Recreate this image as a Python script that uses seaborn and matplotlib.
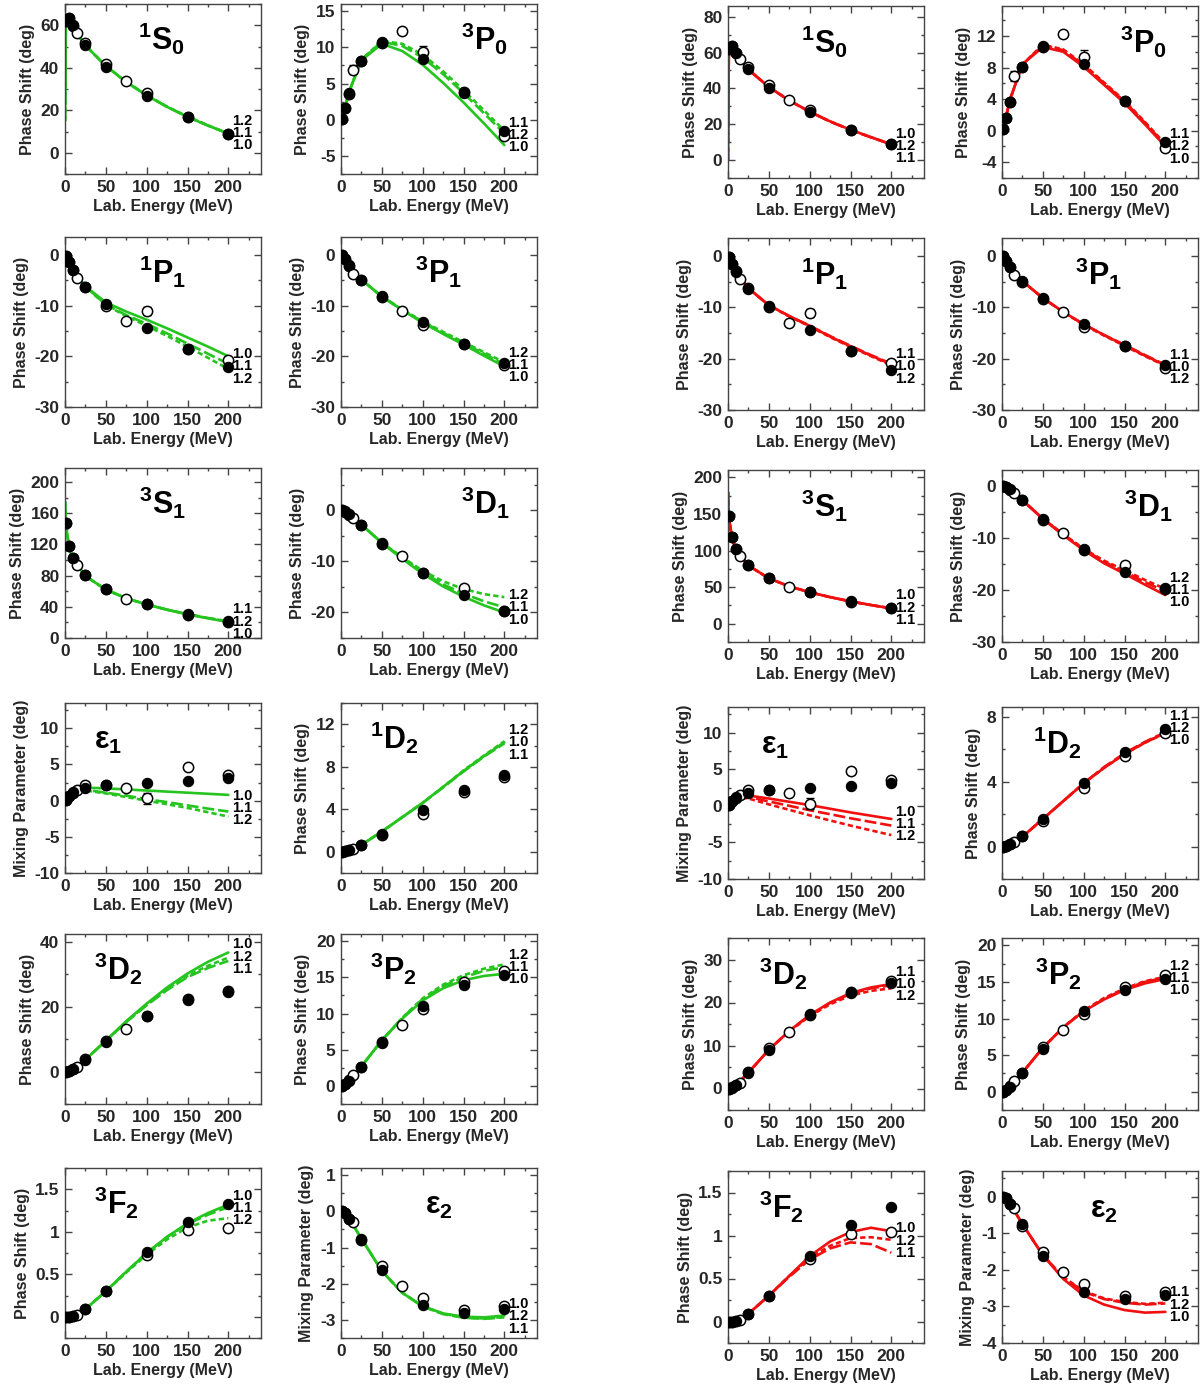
import matplotlib
matplotlib.use("Agg")
import matplotlib.pyplot as plt
import seaborn as sns
import numpy as np
from matplotlib.ticker import MultipleLocator, FuncFormatter

# ======================
# 1. style
# ======================
sns.set_theme(style="ticks")
plt.rcParams['font.family'] = ['Liberation Sans', 'DejaVu Sans']
plt.rcParams['font.weight'] = 'bold'
plt.rcParams['axes.labelweight'] = 'bold'
plt.rcParams['axes.unicode_minus'] = False
plt.rcParams['mathtext.fontset'] = 'custom'
plt.rcParams['mathtext.rm'] = 'Liberation Sans:bold'
plt.rcParams['mathtext.bf'] = 'Liberation Sans:bold'
plt.rcParams['mathtext.it'] = 'Liberation Sans:bold'
plt.rcParams['mathtext.sf'] = 'Liberation Sans:bold'

GREEN = '#26c41f'
RED = '#f01010'
FRAME = '#444444'

# ======================
# 2. data
# ======================
WAVES = ['1S0', '3P0', '1P1', '3P1', '3S1', '3D1', 'E1', '1D2', '3D2', '3P2', '3F2', 'E2']
TITLES = {
    '1S0': r'$\mathrm{{}^{1}S_{0}}$', '3P0': r'$\mathrm{{}^{3}P_{0}}$',
    '1P1': r'$\mathrm{{}^{1}P_{1}}$', '3P1': r'$\mathrm{{}^{3}P_{1}}$',
    '3S1': r'$\mathrm{{}^{3}S_{1}}$', '3D1': r'$\mathrm{{}^{3}D_{1}}$',
    'E1': r'$\mathrm{\varepsilon_{1}}$', '1D2': r'$\mathrm{{}^{1}D_{2}}$',
    '3D2': r'$\mathrm{{}^{3}D_{2}}$', '3P2': r'$\mathrm{{}^{3}P_{2}}$',
    '3F2': r'$\mathrm{{}^{3}F_{2}}$', 'E2': r'$\mathrm{\varepsilon_{2}}$',
}
MIXING = ['E1', 'E2']

# energies (MeV)
E_CURVE = [0, 1, 5, 10, 25, 50, 75, 100, 125, 150, 175, 200]
E_FILLED = [1, 5, 10, 25, 50, 100, 150, 200]
E_OPEN = [1, 5, 10, 15, 25, 50, 75, 100, 150, 200]
nan = np.nan

# phase shift analyses (filled / open circles), same in both groups
FILLED = {
    '1S0': [62.1, 63.6, 60.0, 50.9, 40.5, 26.8, 16.9, 8.9],
    '3P0': [0.15, 1.6, 3.65, 8.1, 10.7, 8.4, 3.7, -1.5],
    '1P1': [-0.2, -1.5, -3.1, -6.4, -9.7, -14.5, -18.6, -22.2],
    '3P1': [-0.1, -0.9, -2.1, -4.9, -8.2, -13.3, -17.5, -21.3],
    '3S1': [147.7, 118.2, 102.6, 80.6, 62.8, 43.2, 30.7, 21.2],
    '3D1': [0.0, -0.2, -0.7, -2.8, -6.4, -12.2, -16.5, -19.7],
    'E1': [0.1, 0.7, 1.2, 1.8, 2.1, 2.4, 2.75, 3.1],
    '1D2': [0.0, 0.04, 0.16, 0.68, 1.7, 3.9, 5.8, 7.25],
    '3D2': [0.0, 0.2, 0.8, 3.7, 9.0, 17.3, 22.1, 24.5],
    '3P2': [0.0, 0.25, 0.7, 2.55, 5.9, 11.0, 13.9, 15.4],
    '3F2': [0.0, 0.0, 0.01, 0.09, 0.3, 0.76, 1.12, 1.33],
    'E2': [0.0, -0.05, -0.2, -0.75, -1.63, -2.6, -2.8, -2.7],
}
OPEN = {
    '1S0': [62.0, 63.5, 59.8, 56.5, 51.8, 41.8, 33.7, 28.0, 17.0, 9.0],
    '3P0': [0.15, 1.6, 3.6, 6.9, 8.1, 10.6, 12.3, 9.3, 3.8, -2.2],
    '1P1': [-0.2, -1.5, -3.0, -4.5, -6.3, -10.0, -13.0, -11.1, -18.5, -20.8],
    '3P1': [-0.1, -0.9, -2.2, -3.8, -5.0, -8.3, -11.0, -13.8, -17.6, -21.8],
    '3S1': [147.7, 118.0, 102.5, 93.0, 80.5, 62.5, 50.5, 43.0, 29.0, 21.0],
    '3D1': [0.0, -0.3, -0.9, -1.4, -2.8, -6.5, -9.0, -12.3, -15.3, -19.8],
    'E1': [0.1, 0.7, 1.1, 1.5, 2.2, 2.1, 1.7, 0.3, 4.7, 3.5],
    '1D2': [0.0, 0.05, 0.15, 0.3, 0.65, 1.55, nan, 3.6, 5.6, 7.0],
    '3D2': [0.0, 0.25, 0.8, 1.3, 3.8, 9.5, 13.1, 17.2, 22.5, 25.0],
    '3P2': [0.0, 0.3, 0.8, 1.5, 2.6, 6.1, 8.4, 10.6, 14.3, 15.9],
    '3F2': [0.0, 0.0, 0.01, 0.02, 0.09, 0.3, nan, 0.73, 1.02, 1.04],
    'E2': [0.0, -0.05, -0.2, -0.3, -0.8, -1.5, -2.05, -2.4, -2.72, -2.62],
}
OPEN_ERR = {
    '3P0': [0, 0, 0, 0.6, 0, 0, 0.3, 0.9, 0, 0],
    '1P1': [0, 0, 0, 0, 0, 0, 0, 0.8, 0, 0],
    'E1': [0, 0, 0, 0, 0, 0, 0, 0.8, 0, 0],
}

# model curves, left group (green)
GREEN_CURVES = {
    '1S0': {'1.0': [15, 60, 62, 58.5, 50.5, 40.8, 33.3, 27.0, 21.6, 16.9, 12.8, 9.0],
            '1.1': [15, 60, 62, 58.5, 50.5, 40.8, 33.3, 27.0, 21.6, 16.9, 12.8, 9.0],
            '1.2': [15, 60, 62, 58.5, 50.5, 40.9, 33.4, 27.1, 21.7, 17.0, 12.9, 9.1]},
    '3P0': {'1.0': [0, 0.2, 1.7, 3.9, 8.2, 10.5, 9.5, 7.6, 5.1, 2.4, -0.5, -3.5],
            '1.1': [0, 0.2, 1.7, 3.9, 8.3, 10.8, 10.2, 8.6, 6.3, 3.7, 0.9, -1.9],
            '1.2': [0, 0.2, 1.7, 3.9, 8.3, 10.9, 10.5, 9.0, 6.7, 4.1, 1.3, -1.5]},
    '1P1': {'1.0': [0, -0.2, -1.5, -3.0, -6.2, -9.4, -11.2, -12.8, -14.5, -16.3, -18.1, -20.0],
            '1.1': [0, -0.2, -1.5, -3.0, -6.3, -9.8, -11.9, -13.6, -15.5, -17.5, -19.5, -21.5],
            '1.2': [0, -0.2, -1.5, -3.0, -6.3, -9.9, -12.1, -14.0, -16.0, -18.1, -20.3, -22.5]},
    '3P1': {'1.0': [0, -0.1, -0.9, -2.0, -4.9, -8.3, -10.9, -13.4, -15.6, -17.7, -19.9, -22.0],
            '1.1': [0, -0.1, -0.9, -2.0, -4.9, -8.2, -10.8, -13.2, -15.4, -17.4, -19.5, -21.6],
            '1.2': [0, -0.1, -0.9, -2.0, -4.9, -8.2, -10.8, -13.1, -15.2, -17.2, -19.2, -21.2]},
    '3S1': {'1.0': [175, 146, 116, 101, 79.5, 62.0, 51.0, 43.0, 36.2, 30.3, 25.2, 20.6],
            '1.1': [175, 146, 116, 101, 79.5, 62.0, 51.0, 43.0, 36.4, 30.6, 25.7, 21.5],
            '1.2': [175, 146, 116, 101, 79.5, 62.0, 51.0, 43.0, 36.3, 30.5, 25.5, 21.0]},
    '3D1': {'1.0': [0, 0, -0.2, -0.7, -2.8, -6.4, -9.5, -12.4, -14.9, -16.9, -18.6, -20.0],
            '1.1': [0, 0, -0.2, -0.7, -2.8, -6.3, -9.3, -12.1, -14.5, -16.3, -17.8, -19.0],
            '1.2': [0, 0, -0.2, -0.7, -2.8, -6.3, -9.2, -11.8, -13.9, -15.4, -16.4, -17.0]},
    'E1': {'1.0': [0, 0.1, 0.7, 1.1, 1.8, 1.7, 1.55, 1.4, 1.25, 1.1, 0.95, 0.8],
           '1.1': [0, 0.1, 0.7, 1.1, 1.5, 1.1, 0.7, 0.2, -0.2, -0.65, -1.1, -1.5],
           '1.2': [0, 0.1, 0.7, 1.1, 1.4, 1.0, 0.5, 0.0, -0.5, -1.0, -1.6, -2.2]},
    '1D2': {'1.0': [0, 0, 0.04, 0.15, 0.65, 1.9, 3.25, 4.6, 6.1, 7.6, 9.0, 10.3],
            '1.1': [0, 0, 0.04, 0.15, 0.65, 1.9, 3.25, 4.6, 6.05, 7.55, 8.95, 10.2],
            '1.2': [0, 0, 0.04, 0.15, 0.65, 1.9, 3.25, 4.6, 6.1, 7.65, 9.05, 10.4]},
    '3D2': {'1.0': [0, 0, 0.2, 0.8, 3.7, 9.6, 15.6, 21.0, 26.0, 30.3, 33.9, 36.8],
            '1.1': [0, 0, 0.2, 0.8, 3.7, 9.5, 15.3, 20.5, 25.2, 29.2, 32.0, 34.2],
            '1.2': [0, 0, 0.2, 0.8, 3.7, 9.5, 15.4, 20.7, 25.5, 29.6, 32.7, 35.2]},
    '3P2': {'1.0': [0, 0, 0.3, 0.8, 2.7, 6.3, 9.3, 11.8, 13.5, 14.6, 15.2, 15.5],
            '1.1': [0, 0, 0.3, 0.8, 2.7, 6.3, 9.4, 12.0, 13.8, 15.0, 15.9, 16.4],
            '1.2': [0, 0, 0.3, 0.8, 2.7, 6.3, 9.4, 12.1, 14.0, 15.3, 16.2, 16.8]},
    '3F2': {'1.0': [0, 0, 0, 0.01, 0.09, 0.3, 0.53, 0.75, 0.94, 1.1, 1.22, 1.32],
            '1.1': [0, 0, 0, 0.01, 0.09, 0.3, 0.53, 0.75, 0.94, 1.09, 1.2, 1.29],
            '1.2': [0, 0, 0, 0.01, 0.09, 0.3, 0.52, 0.73, 0.91, 1.05, 1.13, 1.16]},
    'E2': {'1.0': [0, 0, -0.05, -0.2, -0.75, -1.65, -2.25, -2.62, -2.82, -2.91, -2.93, -2.88],
           '1.1': [0, 0, -0.05, -0.2, -0.75, -1.65, -2.25, -2.63, -2.84, -2.94, -2.97, -2.93],
           '1.2': [0, 0, -0.05, -0.2, -0.75, -1.65, -2.25, -2.62, -2.83, -2.93, -2.96, -2.92]},
}

# model curves, right group (red)
RED_CURVES = {
    '1S0': {'1.0': [0, 60, 62, 58.5, 50.5, 40.8, 33.3, 27.0, 21.6, 16.9, 12.8, 8.8],
            '1.1': [0, 60, 62, 58.5, 50.5, 40.7, 33.2, 26.9, 21.5, 16.8, 12.7, 8.7],
            '1.2': [0, 60, 62, 58.5, 50.5, 40.8, 33.3, 27.0, 21.6, 16.9, 12.8, 8.8]},
    '3P0': {'1.0': [0, 0.2, 1.8, 4.0, 8.4, 10.6, 10.0, 8.1, 5.8, 3.5, 0.8, -2.0],
            '1.1': [0, 0.2, 1.8, 4.0, 8.4, 10.8, 10.2, 8.3, 6.0, 3.7, 1.0, -1.8],
            '1.2': [0, 0.2, 1.8, 4.0, 8.4, 10.9, 10.3, 8.4, 6.1, 3.8, 1.1, -1.7]},
    '1P1': {'1.0': [0, -0.2, -1.5, -3.0, -6.3, -9.6, -11.7, -13.6, -15.7, -17.6, -19.4, -21.1],
            '1.1': [0, -0.2, -1.5, -3.0, -6.3, -9.6, -11.7, -13.6, -15.6, -17.5, -19.3, -21.0],
            '1.2': [0, -0.2, -1.5, -3.0, -6.3, -9.6, -11.8, -13.7, -15.8, -17.7, -19.5, -21.3]},
    '3P1': {'1.0': [0, -0.1, -0.9, -2.0, -4.9, -8.2, -10.9, -13.3, -15.4, -17.4, -19.4, -21.3],
            '1.1': [0, -0.1, -0.9, -2.0, -4.9, -8.2, -10.9, -13.3, -15.4, -17.3, -19.3, -21.2],
            '1.2': [0, -0.1, -0.9, -2.0, -4.9, -8.2, -10.9, -13.4, -15.5, -17.5, -19.5, -21.4]},
    '3S1': {'1.0': [180, 146, 116, 101, 79.5, 62.0, 51.0, 43.0, 36.3, 30.5, 25.5, 21.0],
            '1.1': [180, 146, 116, 101, 79.5, 62.0, 51.0, 43.0, 36.3, 30.5, 25.5, 20.9],
            '1.2': [180, 146, 116, 101, 79.5, 62.0, 51.0, 43.0, 36.3, 30.5, 25.5, 21.0]},
    '3D1': {'1.0': [0, 0, -0.2, -0.7, -2.8, -6.4, -9.5, -12.4, -14.9, -16.9, -19.0, -21.0],
            '1.1': [0, 0, -0.2, -0.7, -2.8, -6.3, -9.4, -12.2, -14.6, -16.5, -18.5, -20.3],
            '1.2': [0, 0, -0.2, -0.7, -2.8, -6.3, -9.3, -12.1, -14.4, -16.2, -18.1, -19.8]},
    'E1': {'1.0': [0, 0.1, 0.7, 1.1, 1.4, 1.0, 0.55, 0.1, -0.4, -0.9, -1.35, -1.8],
           '1.1': [0, 0.1, 0.7, 1.1, 1.2, 0.6, 0.0, -0.6, -1.15, -1.7, -2.2, -2.7],
           '1.2': [0, 0.1, 0.7, 1.1, 1.0, 0.2, -0.55, -1.3, -2.0, -2.7, -3.35, -4.0]},
    '1D2': {'1.0': [0, 0, 0.04, 0.15, 0.6, 1.7, 2.8, 3.9, 4.85, 5.7, 6.4, 7.0],
            '1.1': [0, 0, 0.04, 0.15, 0.6, 1.7, 2.8, 3.9, 4.9, 5.75, 6.45, 7.05],
            '1.2': [0, 0, 0.04, 0.15, 0.6, 1.7, 2.8, 3.9, 4.85, 5.7, 6.4, 7.0]},
    '3D2': {'1.0': [0, 0, 0.2, 0.8, 3.7, 9.0, 13.4, 17.1, 20.0, 22.2, 23.5, 24.3],
            '1.1': [0, 0, 0.2, 0.8, 3.7, 9.0, 13.4, 17.0, 19.9, 22.0, 23.3, 24.0],
            '1.2': [0, 0, 0.2, 0.8, 3.7, 9.0, 13.3, 16.8, 19.6, 21.6, 22.7, 23.3]},
    '3P2': {'1.0': [0, 0, 0.3, 0.8, 2.6, 6.0, 8.8, 11.0, 12.6, 13.9, 14.8, 15.4],
            '1.1': [0, 0, 0.3, 0.8, 2.6, 6.0, 8.8, 11.0, 12.7, 14.0, 15.0, 15.6],
            '1.2': [0, 0, 0.3, 0.8, 2.6, 6.0, 8.8, 11.1, 12.8, 14.1, 15.1, 15.7]},
    '3F2': {'1.0': [0, 0, 0, 0.01, 0.09, 0.3, 0.53, 0.76, 0.93, 1.04, 1.09, 1.05],
            '1.1': [0, 0, 0, 0.01, 0.09, 0.3, 0.52, 0.72, 0.85, 0.92, 0.90, 0.80],
            '1.2': [0, 0, 0, 0.01, 0.09, 0.3, 0.53, 0.74, 0.88, 0.97, 0.98, 0.95]},
    'E2': {'1.0': [0, 0, -0.05, -0.2, -0.75, -1.6, -2.25, -2.7, -2.95, -3.1, -3.17, -3.15],
           '1.1': [0, 0, -0.05, -0.2, -0.75, -1.6, -2.2, -2.6, -2.8, -2.9, -2.95, -2.92],
           '1.2': [0, 0, -0.05, -0.2, -0.75, -1.6, -2.2, -2.58, -2.78, -2.88, -2.93, -2.9]},
}

# order of the "1.x" tags at the curve ends, top to bottom
TAGS_L = {
    '1S0': ['1.2', '1.1', '1.0'], '3P0': ['1.1', '1.2', '1.0'], '1P1': ['1.0', '1.1', '1.2'],
    '3P1': ['1.2', '1.1', '1.0'], '3S1': ['1.1', '1.2', '1.0'], '3D1': ['1.2', '1.1', '1.0'],
    'E1': ['1.0', '1.1', '1.2'], '1D2': ['1.2', '1.0', '1.1'], '3D2': ['1.0', '1.2', '1.1'],
    '3P2': ['1.2', '1.1', '1.0'], '3F2': ['1.0', '1.1', '1.2'], 'E2': ['1.0', '1.2', '1.1'],
}
TAGS_R = {
    '1S0': ['1.0', '1.2', '1.1'], '3P0': ['1.1', '1.2', '1.0'], '1P1': ['1.1', '1.0', '1.2'],
    '3P1': ['1.1', '1.0', '1.2'], '3S1': ['1.0', '1.2', '1.1'], '3D1': ['1.2', '1.1', '1.0'],
    'E1': ['1.0', '1.1', '1.2'], '1D2': ['1.1', '1.2', '1.0'], '3D2': ['1.1', '1.0', '1.2'],
    '3P2': ['1.2', '1.1', '1.0'], '3F2': ['1.0', '1.2', '1.1'], 'E2': ['1.1', '1.2', '1.0'],
}

# ======================
# 3. layout
# ======================
W, H = 1202, 1389
AX_W = 196
LEFT_COLS = [65, 341]
LEFT_TOPS = [4, 237, 468, 703, 934, 1168]
LEFT_H = 170
RIGHT_COLS = [728, 1002]
RIGHT_TOPS = [6, 238, 470, 707, 938, 1171]
RIGHT_H = 172

# (ylim, major, minor) per wave
YAX_L = {
    '1S0': ((-10, 70), 20, 10), '3P0': ((-7.5, 16), 5, 2.5), '1P1': ((-30, 3.5), 10, 5),
    '3P1': ((-30, 3.5), 10, 5), '3S1': ((0, 218), 40, 20), '3D1': ((-25, 8.3), 10, 5),
    'E1': ((-10, 13.5), 5, 2.5), '1D2': ((-2, 14), 4, 2), '3D2': ((-10, 42.5), 20, 10),
    '3P2': ((-2.5, 21), 5, 2.5), '3F2': ((-0.25, 1.75), 0.5, 0.25), 'E2': ((-3.5, 1.2), 1, 0.5),
}
YAX_R = {
    '1S0': ((-10, 86), 20, 10), '3P0': ((-6, 15.8), 4, 2), '1P1': ((-30, 3.5), 10, 5),
    '3P1': ((-30, 3.5), 10, 5), '3S1': ((-25, 210), 50, 25), '3D1': ((-30, 3), 10, 5),
    'E1': ((-10, 13.5), 5, 2.5), '1D2': ((-2, 8.6), 4, 2), '3D2': ((-5, 35), 10, 5),
    '3P2': ((-2.5, 21), 5, 2.5), '3F2': ((-0.25, 1.75), 0.5, 0.25), 'E2': ((-4, 0.7), 1, 0.5),
}
# y of the middle tag (data units)
TAG_Y_L = {'1S0': 9.4, '3P0': -2.1, '1P1': -22, '3P1': -21.7, '3S1': 21, '3D1': -19,
           'E1': -1.0, '1D2': 10.3, '3D2': 35.5, '3P2': 16.4, '3F2': 1.28, 'E2': -2.9}
TAG_Y_R = {'1S0': 7.8, '3P0': -2.0, '1P1': -21.5, '3P1': -21.6, '3S1': 22, '3D1': -20,
           'E1': -2.5, '1D2': 7.3, '3D2': 24.3, '3P2': 15.5, '3F2': 0.94, 'E2': -2.95}
# title x position (axes fraction)
TITLE_X_L = {'1S0': 0.37, '3P0': 0.61, '1P1': 0.38, '3P1': 0.38, '3S1': 0.38, '3D1': 0.61,
             'E1': 0.15, '1D2': 0.15, '3D2': 0.15, '3P2': 0.15, '3F2': 0.15, 'E2': 0.43}
TITLE_X_R = {'1S0': 0.37, '3P0': 0.60, '1P1': 0.37, '3P1': 0.37, '3S1': 0.37, '3D1': 0.62,
             'E1': 0.17, '1D2': 0.16, '3D2': 0.16, '3P2': 0.17, '3F2': 0.16, 'E2': 0.45}

STYLES = {'1.0': '-', '1.1': (0, (4.5, 1.5)), '1.2': (0, (2.0, 1.2))}
TAG_OFFSETS = [8.8, 0.0, -8.8]


def draw_panel(ax, wave, curves, color, yax, tags, tag_y, title_x):
    for key in ['1.2', '1.1', '1.0']:
        sns.lineplot(x=E_CURVE, y=curves[key], ax=ax, color=color, lw=1.9,
                     linestyle=STYLES[key], zorder=2, estimator=None, sort=False)

    # open circles below filled ones
    err = OPEN_ERR.get(wave)
    if err is not None:
        e = np.array(err, dtype=float)
        m = e > 0
        ax.errorbar(np.array(E_OPEN)[m], np.array(OPEN[wave])[m], yerr=e[m], fmt='none',
                    ecolor='black', elinewidth=1.0, capsize=3, capthick=1.0, zorder=3)
    sns.scatterplot(x=E_OPEN, y=OPEN[wave], ax=ax, s=55, color='white',
                    edgecolor='black', linewidth=1.1, zorder=4)
    sns.scatterplot(x=E_FILLED, y=FILLED[wave], ax=ax, s=55, color='black',
                    edgecolor='black', linewidth=0.8, zorder=5)

    for lab, off in zip(tags, TAG_OFFSETS):
        ax.annotate(lab, (205, tag_y), xytext=(0, off), textcoords='offset points',
                    ha='left', va='center', fontsize=10.5, fontweight='bold',
                    color='black', zorder=6, annotation_clip=False)

    ax.text(title_x, 0.73, TITLES[wave], transform=ax.transAxes, fontsize=22,
            ha='left', va='baseline', color='black')

    (ylo, yhi), major, minor = yax
    ax.set_xlim(0, 240)
    ax.set_ylim(ylo, yhi)
    ax.xaxis.set_major_locator(MultipleLocator(50))
    ax.xaxis.set_minor_locator(MultipleLocator(25))
    ax.yaxis.set_major_locator(MultipleLocator(major))
    ax.yaxis.set_minor_locator(MultipleLocator(minor))
    ax.yaxis.set_major_formatter(FuncFormatter(lambda v, p: f'{v:g}'))
    ax.xaxis.set_major_formatter(FuncFormatter(lambda v, p: f'{v:g}'))
    ax.tick_params(which='both', direction='in', top=True, right=True,
                   color=FRAME, width=1.0, labelsize=12.5, pad=4)
    ax.tick_params(which='major', length=5)
    ax.tick_params(which='minor', length=2.5)
    for lab in ax.get_xticklabels() + ax.get_yticklabels():
        lab.set_fontweight('bold')
    for sp in ax.spines.values():
        sp.set_color(FRAME)
        sp.set_linewidth(1.0)
    ax.set_xlabel('Lab. Energy (MeV)', fontsize=11.5, fontweight='bold', labelpad=3)
    ylab = 'Mixing Parameter (deg)' if wave in MIXING else 'Phase Shift (deg)'
    ax.set_ylabel(ylab, fontsize=11.5, fontweight='bold', labelpad=4)
    ax.grid(False)


fig = plt.figure(figsize=(W / 100, H / 100), dpi=100)
fig.patch.set_facecolor('white')

groups = [
    (LEFT_COLS, LEFT_TOPS, LEFT_H, GREEN_CURVES, GREEN, YAX_L, TAGS_L, TAG_Y_L, TITLE_X_L),
    (RIGHT_COLS, RIGHT_TOPS, RIGHT_H, RED_CURVES, RED, YAX_R, TAGS_R, TAG_Y_R, TITLE_X_R),
]
for cols, tops, hgt, curves, color, yax, tags, tag_y, title_x in groups:
    for i, wave in enumerate(WAVES):
        row, col = divmod(i, 2)
        x0 = cols[col]
        y0 = tops[row]
        ax = fig.add_axes([x0 / W, 1 - (y0 + hgt) / H, AX_W / W, hgt / H])
        ax.set_facecolor('white')
        draw_panel(ax, wave, curves[wave], color, yax[wave], tags[wave],
                   tag_y[wave], title_x[wave])

fig.savefig('out.png', dpi=100, facecolor='white')
